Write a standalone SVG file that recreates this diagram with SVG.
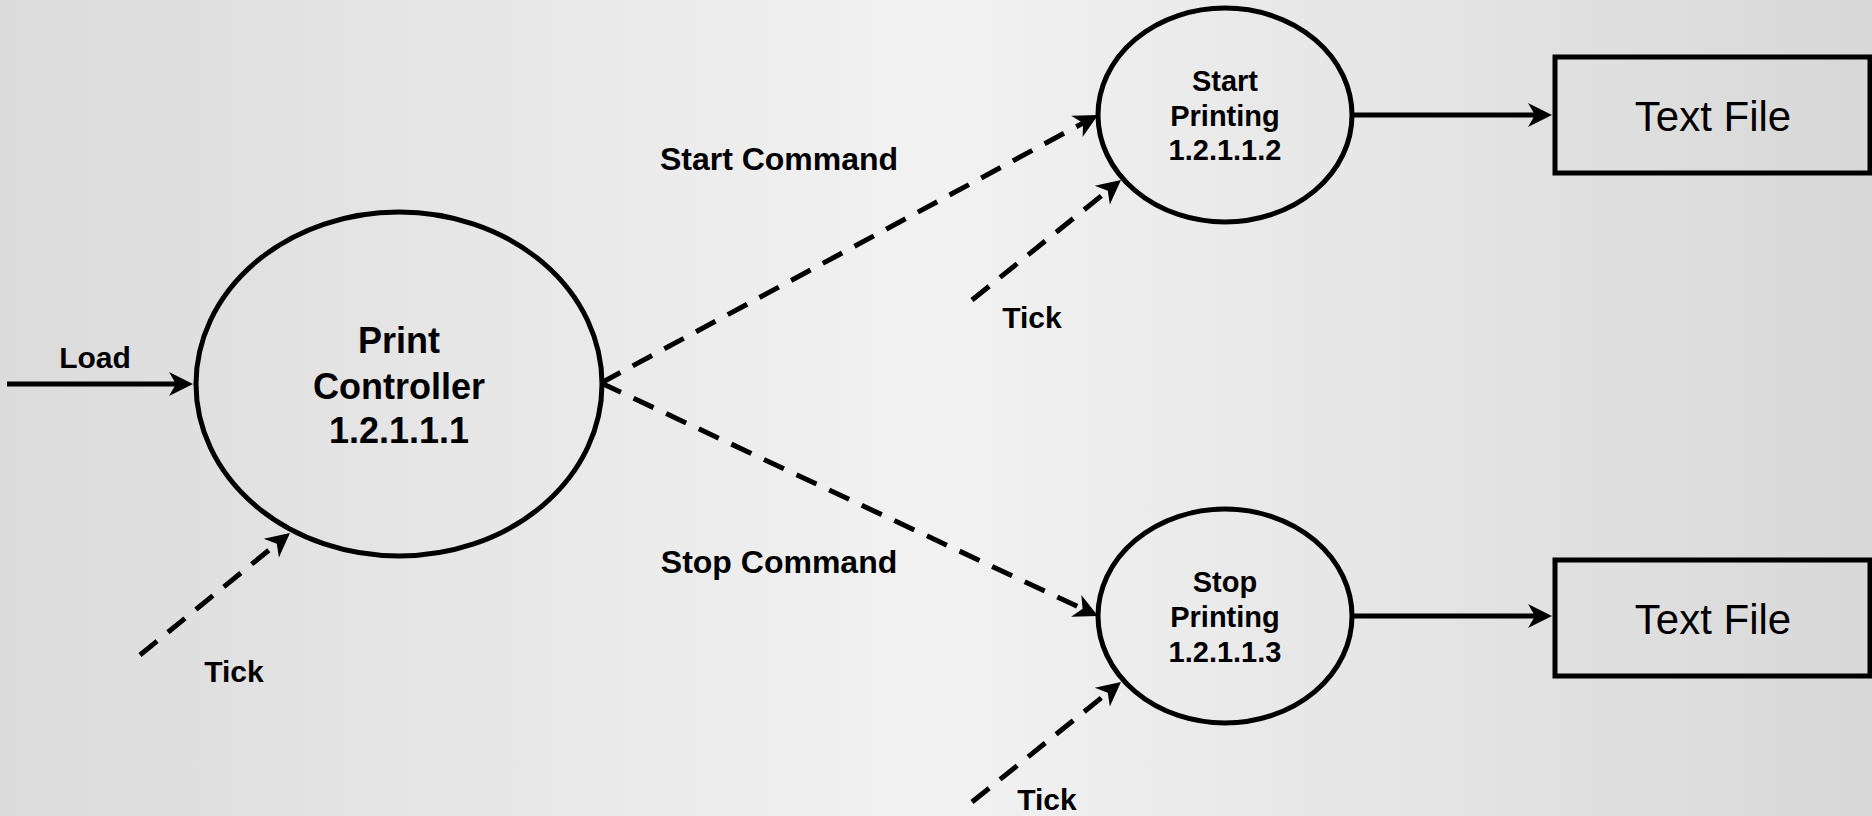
<svg xmlns="http://www.w3.org/2000/svg" width="1872" height="816" viewBox="0 0 1872 816">
  <defs>
    <linearGradient id="bg" x1="0" y1="0" x2="1" y2="0">
      <stop offset="0" stop-color="#dbdbdb"/>
      <stop offset="0.5" stop-color="#f2f2f2"/>
      <stop offset="1" stop-color="#d8d8d8"/>
    </linearGradient>
    <marker id="arr" markerUnits="userSpaceOnUse" markerWidth="40" markerHeight="40" viewBox="-20 -20 40 40" refX="0" refY="0" orient="auto">
      <path d="M14,0 L-10,-12 L-3,0 L-10,12 Z" fill="#000"/>
    </marker>
    <style>
      .shape { fill: none; stroke: #000; stroke-width: 5; }
      .flow { fill: none; stroke: #000; stroke-width: 5; marker-end: url(#arr); }
      .dash { stroke-dasharray: 22 14; }
      .lbl { font-family: "Liberation Sans", Arial, sans-serif; font-weight: bold; fill: #000; text-anchor: middle; }
      .store { font-family: "Liberation Sans", Arial, sans-serif; font-weight: normal; fill: #000; text-anchor: middle; font-size: 42px; }
    </style>
  </defs>
  <rect x="0" y="0" width="1872" height="816" fill="url(#bg)"/>

  <g id="connectors">
    <line class="flow" x1="7" y1="384" x2="179" y2="384"/>
    <line class="flow dash" x1="140" y1="655" x2="279.1" y2="541.8"/>
    <line class="flow dash" x1="601" y1="383" x2="1085.7" y2="121.6"/>
    <line class="flow dash" x1="601" y1="383" x2="1085.3" y2="610.1"/>
    <line class="flow dash" x1="972" y1="300" x2="1110.1" y2="188.8"/>
    <line class="flow dash" x1="972" y1="802" x2="1110.1" y2="690.8"/>
    <line class="flow" x1="1352" y1="115" x2="1538" y2="115"/>
    <line class="flow" x1="1352" y1="616" x2="1538" y2="616"/>
    <text class="lbl" x="95" y="368" font-size="30">Load</text>
    <text class="lbl" x="234" y="682" font-size="30">Tick</text>
    <text class="lbl" x="779" y="170" font-size="32">Start Command</text>
    <text class="lbl" x="779" y="573" font-size="32">Stop Command</text>
    <text class="lbl" x="1032" y="328" font-size="30">Tick</text>
    <text class="lbl" x="1047" y="810" font-size="30">Tick</text>
  </g>

  <g id="print-controller">
    <ellipse class="shape" cx="399" cy="384" rx="203" ry="172"/>
    <text class="lbl" font-size="36"><tspan x="399" y="353">Print</tspan><tspan x="399" y="399">Controller</tspan><tspan x="399" y="443">1.2.1.1.1</tspan></text>
  </g>

  <g id="start-printing">
    <ellipse class="shape" cx="1225" cy="115" rx="127" ry="107"/>
    <text class="lbl" font-size="29"><tspan x="1225" y="91">Start</tspan><tspan x="1225" y="126">Printing</tspan><tspan x="1225" y="160">1.2.1.1.2</tspan></text>
  </g>

  <g id="stop-printing">
    <ellipse class="shape" cx="1225" cy="616" rx="127" ry="107"/>
    <text class="lbl" font-size="29"><tspan x="1225" y="592">Stop</tspan><tspan x="1225" y="627">Printing</tspan><tspan x="1225" y="662">1.2.1.1.3</tspan></text>
  </g>

  <g id="text-file-1">
    <rect class="shape" x="1555" y="57" width="315" height="116"/>
    <text class="store" x="1713" y="131">Text File</text>
  </g>

  <g id="text-file-2">
    <rect class="shape" x="1555" y="560" width="315" height="116"/>
    <text class="store" x="1713" y="634">Text File</text>
  </g>
</svg>
